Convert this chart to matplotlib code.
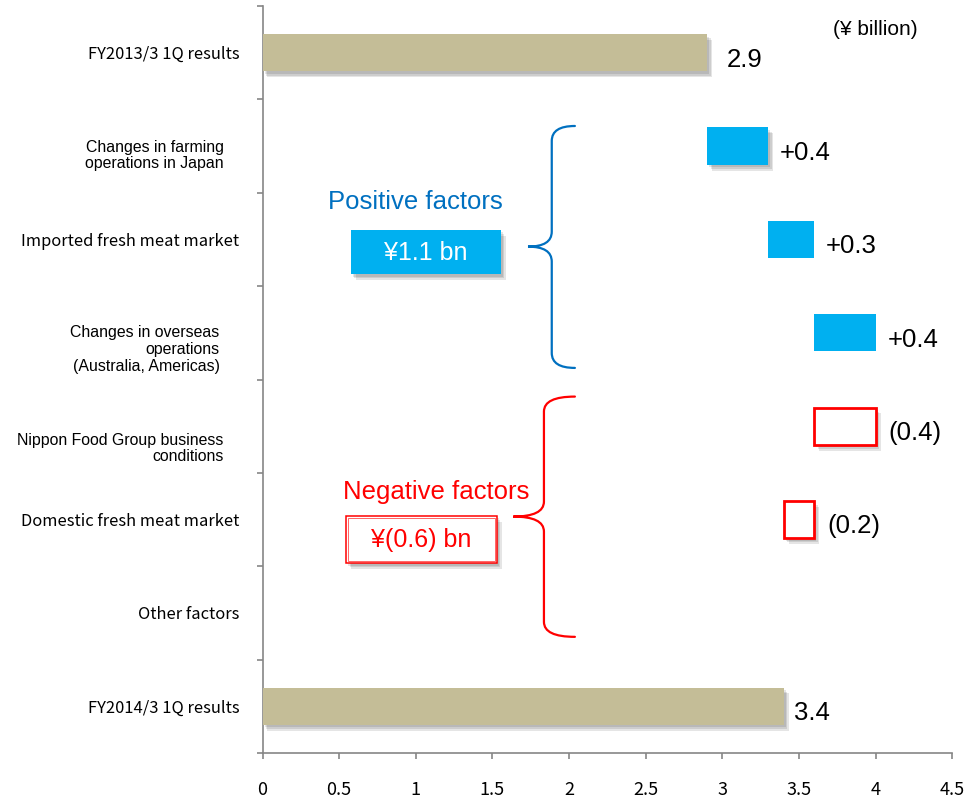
import numpy as np
import matplotlib
matplotlib.use("Agg")
import matplotlib.pyplot as plt
import matplotlib.patheffects as pe
from matplotlib.patches import Rectangle, PathPatch
from matplotlib.path import Path
from matplotlib.transforms import ScaledTranslation

# ---- data (¥ billion) ----
categories = [
    "FY2013/3 1Q results",
    "Changes in farming\noperations in Japan",
    "Imported fresh meat market",
    "Changes in overseas\noperations\n(Australia, Americas)",
    "Nippon Food Group business\nconditions",
    "Domestic fresh meat market",
    "Other factors",
    "FY2014/3 1Q results",
]
kinds = ["total", "up", "up", "up", "down", "down", "down", "total"]
values = [2.9, 0.4, 0.3, 0.4, -0.4, -0.2, 0.0, 3.4]
xticks = [0, 0.5, 1, 1.5, 2, 2.5, 3, 3.5, 4, 4.5]
xtick_labels = ["0", "0.5", "1", "1.5", "2", "2.5", "3", "3.5", "4", "4.5"]

TAN = "#C4BD97"
BLUE = "#00B0F0"
DARK_BLUE = "#0070C0"
RED = "#FF0000"
GREY = "#868686"
ARIAL = ["Liberation Sans", "DejaVu Sans"]
GOTHIC = ["Noto Sans CJK JP", "DejaVu Sans"]

fig = plt.figure(figsize=(9.77, 8.01), dpi=100)
ax = fig.add_axes([262.5 / 977, 1 - 753 / 801, (952.3 - 262.5) / 977, (753 - 6) / 801])

shadow = [pe.SimplePatchShadow(offset=(d, -d * 1.2), shadow_rgbFace="black", alpha=0.10)
          for d in (1.5, 2.5, 3.5)] + [pe.Normal()]

# waterfall geometry
lefts, widths = [], []
running = 0.0
for k, v in zip(kinds, values):
    if k == "total":
        lefts.append(0.0)
        widths.append(v)
        running = v
    else:
        start = running
        running = running + v
        lefts.append(min(start, running))
        widths.append(abs(v))

ypos = np.arange(len(categories))
for i, (k, l, w, v) in enumerate(zip(kinds, lefts, widths, values)):
    if k == "down" and w == 0:
        continue
    if k == "total":
        bars = ax.barh(ypos[i], w, left=l, height=0.4, color=TAN, zorder=3)
        bars[0].set_path_effects(shadow)
        label = f"{v:.1f}"
        dx = 14 if i == 0 else 7.5
    elif k == "up":
        bars = ax.barh(ypos[i], w, left=l, height=0.4, color=BLUE, zorder=3)
        if i == 1:
            bars[0].set_path_effects(shadow)
        label = f"+{v:.1f}"
        dx = 8.5
    else:
        bars = ax.barh(ypos[i], w, left=l, height=0.4, facecolor="white",
                       edgecolor=RED, linewidth=2, zorder=3)
        bars[0].set_path_effects(shadow)
        label = f"({-v:.1f})"
        dx = 9.5
    ax.annotate(label, xy=(l + w, ypos[i]), xytext=(dx, -10), textcoords="offset points",
                ha="left", va="baseline", fontsize=18.5, family=ARIAL, color="black")

ax.set_xlim(0, 4.5)
ax.set_ylim(len(categories) - 0.5, -0.5)

# axes styling
for s in ("top", "right"):
    ax.spines[s].set_visible(False)
for s in ("left", "bottom"):
    ax.spines[s].set_color(GREY)
    ax.spines[s].set_linewidth(1.2)

ax.set_xticks(xticks)
ax.set_xticklabels(xtick_labels, family=GOTHIC, fontsize=13)
ax.tick_params(axis="x", length=4, width=1.2, color=GREY, pad=16)

ax.set_yticks(ypos)
ax.set_yticklabels(categories)
ax.set_yticks(np.arange(-0.5, len(categories), 1), minor=True)
ax.tick_params(axis="y", which="major", length=0, pad=16.5)
ax.tick_params(axis="y", which="minor", length=4, width=1.2, color=GREY)

shifts = {1: (-16, -7), 3: (-20, -14), 4: (-16, -20)}
for i, lbl in enumerate(ax.get_yticklabels()):
    if "\n" in lbl.get_text():
        lbl.set_fontfamily(ARIAL)
        lbl.set_fontsize(11.4)
        lbl.set_linespacing(1.15)
    else:
        lbl.set_fontfamily(GOTHIC)
        lbl.set_fontsize(11.9)
    if i in shifts:
        dx, dy = shifts[i]
        lbl.set_transform(lbl.get_transform() + ScaledTranslation(dx / 100, dy / 100, fig.dpi_scale_trans))

# unit note
ax.text(4.0, -0.25, "(¥ billion)", ha="center", va="center", fontsize=15, family=ARIAL)


def brace(x_end, x_spine, x_tip, y_top, y_tip, y_bot, color, ry=0.16):
    verts = [(x_end, y_top), (x_spine, y_top), (x_spine, y_top + ry),
             (x_spine, y_tip - ry), (x_spine, y_tip), (x_tip, y_tip),
             (x_spine, y_tip), (x_spine, y_tip + ry),
             (x_spine, y_bot - ry), (x_spine, y_bot), (x_end, y_bot)]
    codes = [Path.MOVETO, Path.CURVE3, Path.CURVE3,
             Path.LINETO, Path.CURVE3, Path.CURVE3,
             Path.CURVE3, Path.CURVE3,
             Path.LINETO, Path.CURVE3, Path.CURVE3]
    ax.add_patch(PathPatch(Path(verts, codes), fill=False, edgecolor=color,
                           linewidth=1.6, capstyle="round", zorder=4))


pos_total = sum(v for k, v in zip(kinds, values) if k == "up")
neg_total = sum(v for k, v in zip(kinds, values) if k == "down")

# positive factors group
brace(2.038, 1.887, 1.732, 0.785, 2.077, 3.376, DARK_BLUE)
ax.text(0.995, 1.60, "Positive factors", ha="center", va="center", fontsize=18.5,
        family=ARIAL, color=DARK_BLUE)
pbox = Rectangle((0.577, 1.898), 0.979, 0.475, facecolor=BLUE, edgecolor="none", zorder=4)
pbox.set_path_effects(shadow)
ax.add_patch(pbox)
ax.text(1.067, 2.14, f"¥{pos_total:.1f} bn", ha="center", va="center", fontsize=18,
        family=ARIAL, color="white", zorder=5)

# negative factors group
brace(2.038, 1.836, 1.636, 3.683, 4.968, 6.256, RED)
ax.text(1.136, 4.70, "Negative factors", ha="center", va="center", fontsize=18.5,
        family=ARIAL, color=RED)
nbox = Rectangle((0.545, 4.960), 0.983, 0.507, facecolor="white", edgecolor=RED,
                 linewidth=1.1, zorder=4)
nbox.set_path_effects(shadow)
ax.add_patch(nbox)
ax.add_patch(Rectangle((0.558, 4.985), 0.957, 0.457, facecolor="none", edgecolor=RED,
                       linewidth=0.6, alpha=0.7, zorder=5))
ax.text(1.036, 5.22, f"¥({-neg_total:.1f}) bn", ha="center", va="center", fontsize=18,
        family=ARIAL, color=RED, zorder=6)

fig.savefig("out.png", dpi=100)
